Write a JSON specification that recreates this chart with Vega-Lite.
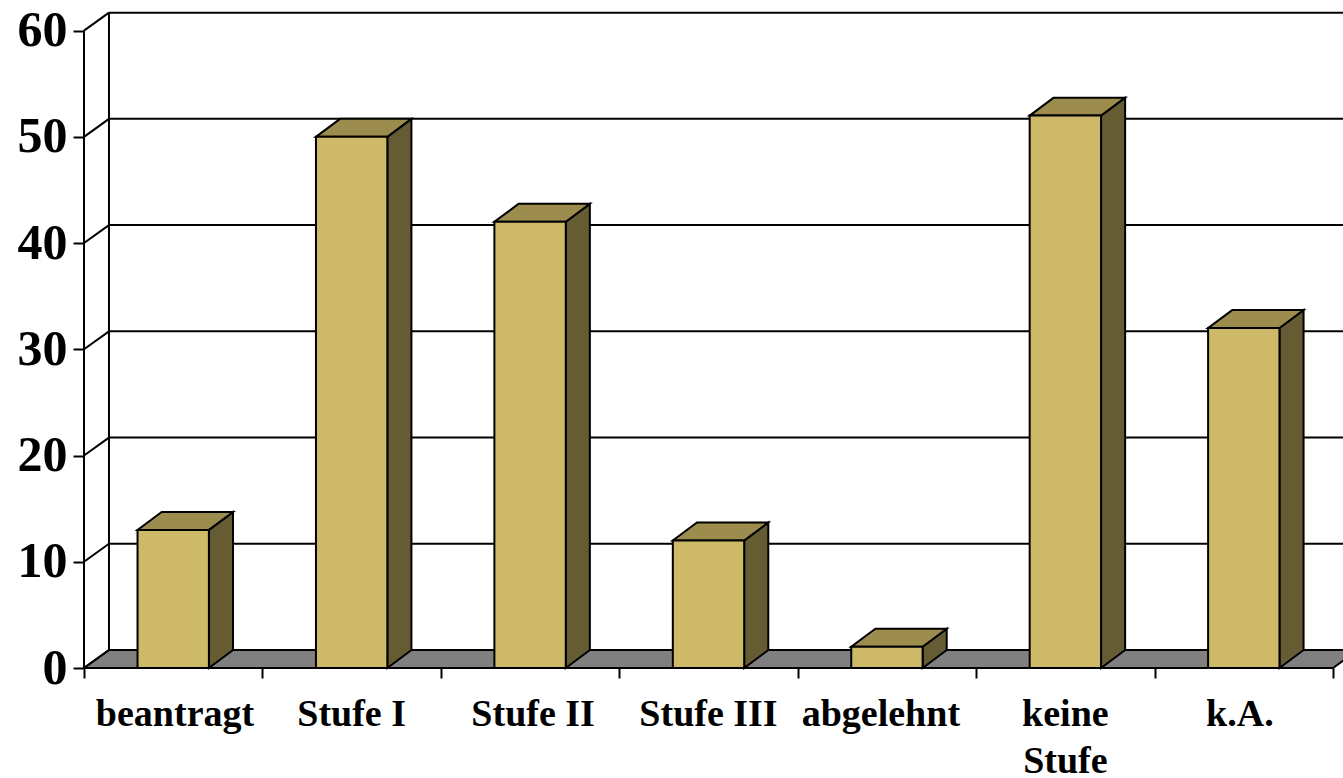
{
"$schema":"https://vega.github.io/schema/vega-lite/v6.json",
"width":1259,"height":656,
"autosize":{"type":"none"},
"padding":{"left":84,"top":12,"right":0,"bottom":110},
"background":"white",
"datasets":{
"bars":[
{"label":"beantragt","slot":0,"value":13},
{"label":"Stufe I","slot":1,"value":50},
{"label":"Stufe II","slot":2,"value":42},
{"label":"Stufe III","slot":3,"value":12},
{"label":"abgelehnt","slot":4,"value":2},
{"label":"keine\nStufe","slot":5,"value":52},
{"label":"k.A.","slot":6,"value":32}
],
"levels":[{"level":0},{"level":10},{"level":20},{"level":30},{"level":40},{"level":50},{"level":60}],
"floor":[{"name":"Boden"}]
},
"config":{"view":{"stroke":null}},
"layer":[
{"data":{"name":"floor"},
"transform":[{"calculate":"[0,1]","as":"d"},{"flatten":["d"]},{"calculate":"datum.d*0.14","as":"a"},{"calculate":"7+datum.d*0.14","as":"b"},{"calculate":"datum.d*1.69","as":"h"}],
"mark":{"type":"area","orient":"horizontal","fill":"#808080","stroke":"black","strokeWidth":2,"clip":false},
"encoding":{
"y":{"field":"h","type":"quantitative","scale":{"domain":[0,61.75],"range":[656,0],"nice":false,"zero":false},
"axis":{"values":[0,10,20,30,40,50,60],"title":null,"grid":false,"domain":false,"tickSize":11,"tickWidth":2,"tickColor":"black","labelFont":"Liberation Serif","labelFontWeight":"bold","labelFontSize":50,"labelColor":"black","labelPadding":6}},
"x":{"field":"a","type":"quantitative","scale":{"domain":[0,7.056],"range":[0,1259],"nice":false,"zero":false},
"axis":{"values":[0,1,2,3,4,5,6,7],"title":null,"grid":false,"domain":false,"labels":false,"tickSize":10,"tickWidth":2,"tickColor":"black"}},
"x2":{"field":"b"}
}},
{"data":{"name":"levels"},
"transform":[{"calculate":"datum.level+1.69","as":"back"}],
"mark":{"type":"rule","stroke":"black","strokeWidth":2},
"encoding":{"x":{"datum":0.14,"type":"quantitative"},"x2":{"datum":7.056},"y":{"field":"back","type":"quantitative"}}},
{"data":{"name":"levels"},
"transform":[{"calculate":"datum.level+1.69","as":"back"}],
"mark":{"type":"rule","stroke":"black","strokeWidth":2},
"encoding":{"x":{"datum":0,"type":"quantitative"},"x2":{"datum":0.14},"y":{"field":"level","type":"quantitative"},"y2":{"field":"back"}}},
{"data":{"values":[{"x":0,"y":0,"y2":60},{"x":0.14,"y":1.69,"y2":61.69}]},
"mark":{"type":"rule","stroke":"black","strokeWidth":2},
"encoding":{"x":{"field":"x","type":"quantitative"},"y":{"field":"y","type":"quantitative"},"y2":{"field":"y2"}}},
{"data":{"name":"bars"},
"transform":[{"calculate":"[0,1]","as":"d"},{"flatten":["d"]},{"calculate":"datum.slot+0.7+datum.d*0.135","as":"px"},{"calculate":"datum.value+datum.d*1.69","as":"top"},{"calculate":"datum.d*1.69","as":"base"}],
"mark":{"type":"area","orient":"vertical","fill":"#665C33","stroke":"black","strokeWidth":2},
"encoding":{"x":{"field":"px","type":"quantitative"},"y":{"field":"top","type":"quantitative"},"y2":{"field":"base"},"detail":{"field":"label"}}},
{"data":{"name":"bars"},
"transform":[{"calculate":"[0,1]","as":"d"},{"flatten":["d"]},{"calculate":"datum.slot+0.3+datum.d*0.135","as":"l"},{"calculate":"datum.slot+0.7+datum.d*0.135","as":"r"},{"calculate":"datum.value+datum.d*1.69","as":"top"}],
"mark":{"type":"area","orient":"horizontal","fill":"#9C8C4D","stroke":"black","strokeWidth":2},
"encoding":{"y":{"field":"top","type":"quantitative"},"x":{"field":"l","type":"quantitative"},"x2":{"field":"r"},"detail":{"field":"label"}}},
{"data":{"name":"bars"},
"transform":[{"calculate":"datum.slot+0.3","as":"l"},{"calculate":"datum.slot+0.7","as":"r"}],
"mark":{"type":"rect","fill":"#CDB967","stroke":"black","strokeWidth":2},
"encoding":{"x":{"field":"l","type":"quantitative"},"x2":{"field":"r"},"y":{"field":"value","type":"quantitative"},"y2":{"datum":0}}},
{"data":{"name":"levels"},
"transform":[{"filter":"datum.level==0"}],
"mark":{"type":"rule","stroke":"black","strokeWidth":2},
"encoding":{"x":{"datum":0,"type":"quantitative"},"x2":{"datum":7},"y":{"field":"level","type":"quantitative"}}},
{"data":{"name":"bars"},
"transform":[{"calculate":"datum.slot+0.5+[0.01,0,0.017,0,-0.034,0,-0.022][datum.slot]","as":"c"}],
"mark":{"type":"text","font":"Liberation Serif","fontWeight":"bold","fontSize":38,"color":"black","baseline":"top","align":"center","lineBreak":"\n","lineHeight":47,"dy":28},
"encoding":{"x":{"field":"c","type":"quantitative"},"y":{"datum":0,"type":"quantitative"},"text":{"field":"label"}}}
]
}
